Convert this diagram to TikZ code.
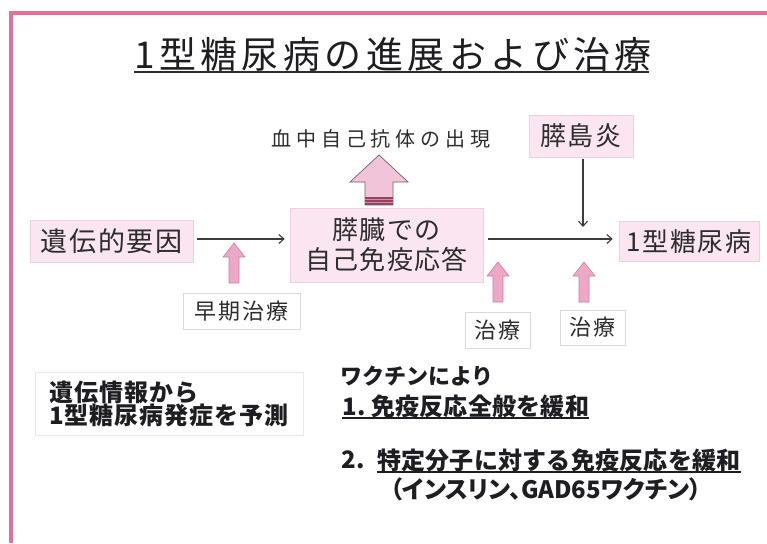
\documentclass[tikz,border=0pt]{standalone}
\usepackage{fontspec}
\setmainfont{Noto Sans CJK JP}
\usetikzlibrary{arrows.meta}
\definecolor{framepink}{RGB}{228,112,152}
\definecolor{boxpink}{RGB}{250,229,240}
\definecolor{boxline}{RGB}{238,208,224}
\definecolor{textgray}{RGB}{45,45,45}
\definecolor{darktext}{RGB}{30,30,34}
\definecolor{linegray}{RGB}{60,60,60}
\definecolor{wline}{RGB}{218,218,218}
\definecolor{arrowpink}{RGB}{236,168,198}
\definecolor{arrowline}{RGB}{205,128,160}
\definecolor{bigpink}{RGB}{242,196,218}
\definecolor{bigline}{RGB}{120,96,106}
\definecolor{banddark}{RGB}{150,66,96}
\tikzset{
  txt/.style={text=textgray, inner sep=0pt},
  btxt/.style={text=darktext, inner sep=0pt, font=\bfseries\fontsize{24}{26}\selectfont\addfontfeature{LetterSpace=1}},
  pbox/.style={draw=boxline, fill=boxpink, line width=0.7pt, inner sep=0pt, text=textgray},
  wbox/.style={draw=wline, fill=white, line width=0.7pt, inner sep=0pt, text=textgray},
  conn/.style={draw=linegray, line width=1.1pt, -{Straight Barb[length=5pt,width=9pt]}},
  uline/.style={draw=darktext, line width=1.2pt},
  smallarrow/.pic={
    \filldraw[fill=arrowpink, draw=arrowline, line width=0.6pt]
      (0,0) -- (11,14) -- (5,14) -- (5,40) -- (-5,40) -- (-5,14) -- (-11,14) -- cycle;
  }
}
\begin{document}
\begin{tikzpicture}[x=1pt,y=-1pt]
\useasboundingbox (0,0) rectangle (767,543);
\fill[white] (0,0) rectangle (767,543);
% frame
\draw[framepink, line width=4pt] (9,13) -- (767,13);
\draw[framepink, line width=4pt] (11,11) -- (11,543);

% title
\node[txt, text=darktext, font=\fontsize{37}{40}\selectfont\addfontfeature{LetterSpace=12}] (title) at (393,54) {1型糖尿病の進展および治療};
\coordinate (tu) at (0,72);
\draw[draw=textgray, line width=1.5pt] (title.west |- tu) -- ([xshift=-3pt]title.east |- tu);

% boxes
\node[pbox, minimum width=163pt, minimum height=42pt, font=\fontsize{27}{30}\selectfont\addfontfeature{LetterSpace=7}] (gene) at (111.5,241) {遺伝的要因};
\node[pbox, minimum width=193pt, minimum height=74pt, align=center, font=\fontsize{26}{30}\selectfont\addfontfeature{LetterSpace=5}] (panc) at (386.5,245) {膵臓での\\自己免疫応答};
\node[pbox, minimum width=140pt, minimum height=40pt, font=\fontsize{26}{30}\selectfont\addfontfeature{LetterSpace=6}] (t1d) at (689,241.5) {1型糖尿病};
\node[pbox, minimum width=104pt, minimum height=42pt, font=\fontsize{26}{30}\selectfont\addfontfeature{LetterSpace=7}] (insul) at (581,136) {膵島炎};
\node[txt, font=\fontsize{20}{22}\selectfont\addfontfeature{LetterSpace=24}] (ab) at (381,139) {血中自己抗体の出現};
\node[wbox, minimum width=117pt, minimum height=36pt, font=\fontsize{22}{24}\selectfont\addfontfeature{LetterSpace=10}] (early) at (241.5,311) {早期治療};
\node[wbox, minimum width=65pt, minimum height=36pt, font=\fontsize{22}{24}\selectfont\addfontfeature{LetterSpace=7}] (tx1) at (497.5,330) {治療};
\node[wbox, minimum width=65pt, minimum height=35pt, font=\fontsize{22}{24}\selectfont\addfontfeature{LetterSpace=7}] (tx2) at (592.5,327.5) {治療};

% connectors
\coordinate (ay) at (0,239);
\coordinate (ie) at (0,227);
\draw[conn, shorten <=4pt, shorten >=5pt] (gene.east |- ay) -- (panc.west |- ay);
\draw[conn, shorten <=5pt, shorten >=6pt] (panc.east |- ay) -- (t1d.west |- ay);
\draw[conn, shorten <=2pt] ([xshift=2pt]insul.south) -- ([xshift=2pt]insul.south |- ie);

% big arrow (antibodies)
\filldraw[fill=bigpink, draw=bigline, line width=0.7pt]
  (379,155) -- (408,182) -- (393,182) -- (393,205) -- (365,205) -- (365,182) -- (350,182) -- cycle;
\fill[banddark] (365.4,197) rectangle (392.6,204.6);
\draw[bigpink!60!banddark, line width=0.6pt] (365.4,199.5) -- (392.6,199.5);
\draw[bigpink!60!banddark, line width=0.6pt] (365.4,202) -- (392.6,202);

% small treatment arrows
\pic at (234,243) {smallarrow};
\pic at (498,262) {smallarrow};
\pic at (584,262) {smallarrow};

% bottom left box
\node[wbox, draw=wline!60, minimum width=268pt, minimum height=63pt, align=left, text=darktext, font=\bfseries\fontsize{24}{23}\selectfont\addfontfeature{LetterSpace=4}] (gi) at (169,403.5) {遺伝情報から\\1型糖尿病発症を予測};

% vaccine text
\node[btxt, anchor=west, font=\bfseries\fontsize{22}{24}\selectfont] (vac) at (340,376) {ワクチンにより};
\node[btxt, anchor=west] (l1) at (342,406) {1.\ 免疫反応全般を緩和};
\coordinate (u1) at (0,418);
\draw[uline] (l1.west |- u1) -- (l1.east |- u1);
\node[btxt, anchor=west] (n2) at (341,460) {2.};
\node[btxt, anchor=west] (l2) at (377,460) {特定分子に対する免疫反応を緩和};
\coordinate (u2) at (0,472);
\draw[uline] (l2.west |- u2) -- (l2.east |- u2);
\node[btxt, font=\bfseries\fontsize{24}{26}\selectfont\addfontfeature{RawFeature=+palt}] (l3) at (546,489) {（インスリン、GAD65ワクチン）};
\end{tikzpicture}
\end{document}
